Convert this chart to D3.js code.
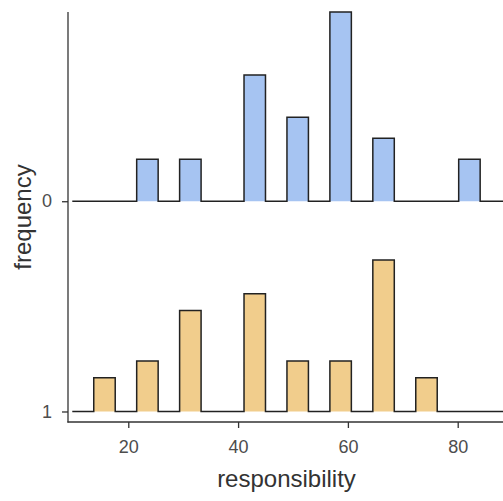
<!DOCTYPE html>
<html>
<head>
<meta charset="utf-8">
<script src="https://cdn.jsdelivr.net/npm/d3@7"></script>
<style>
  html, body { margin: 0; padding: 0; background: #fff; }
  svg { display: block; }
</style>
</head>
<body>
<svg id="chart" width="503" height="501"></svg>
<script>
// Binned counts of "responsibility" for each group; bins share one grid.
const binStart = 9.8;
const binWidth = 3.91;
const groups = ["0", "1"];
const groupPositions = [2, 1];
const groupColors = ["#A6C4F2", "#F1CD8C"];
const counts0 = [0, 0, 0, 2, 0, 2, 0, 0, 6, 0, 4, 0, 9, 0, 3, 0, 0, 0, 2, 0, 0, 0];
const counts1 = [0, 2, 0, 3, 0, 6, 0, 0, 7, 0, 3, 0, 3, 0, 9, 0, 2, 0, 0, 0, 0, 0];
const xTicks = [20, 40, 60, 80];
const ridgeScale = 0.9;

(function draw() {
  const svg = d3.select("#chart");
  const mLeft = 68, mRight = 503, mTop = 12, mBottom = 422;

  const x = d3.scaleLinear().domain([9.02, 88.25]).range([mLeft, mRight]);
  const y = d3.scaleLinear().domain([0.95, 2.9]).range([mBottom, mTop]);

  // densities per group, scaled so the tallest bin spans ridgeScale of a row
  const allCounts = [counts0, counts1];
  const densities = allCounts.map(c => {
    const total = d3.sum(c);
    return c.map(v => v / (total * binWidth));
  });
  const maxDensity = d3.max(densities.flat());

  svg.append("defs").append("clipPath").attr("id", "panel")
    .append("rect").attr("x", mLeft).attr("y", 0)
    .attr("width", mRight - mLeft).attr("height", mBottom);

  const panel = svg.append("g").attr("clip-path", "url(#panel)");

  densities.forEach((dens, gi) => {
    const base = groupPositions[gi];
    // step outline: each bin contributes its left and right edge at its height
    const pts = [];
    dens.forEach((d, i) => {
      const x0 = binStart + i * binWidth;
      const x1 = x0 + binWidth;
      const h = base + d / maxDensity * ridgeScale;
      pts.push([x0, h], [x1, h]);
    });
    const area = d3.area()
      .x(p => x(p[0]))
      .y0(y(base))
      .y1(p => y(p[1]));
    const line = d3.line()
      .x(p => x(p[0]))
      .y(p => y(p[1]));
    panel.append("path")
      .attr("d", area(pts))
      .attr("fill", groupColors[gi])
      .attr("stroke", "none");
    panel.append("path")
      .attr("d", line(pts))
      .attr("fill", "none")
      .attr("stroke", "#222")
      .attr("stroke-width", 1.5)
      .attr("stroke-linejoin", "miter");
  });

  // axes
  const xAxis = svg.append("g")
    .attr("transform", `translate(0,${mBottom})`)
    .call(d3.axisBottom(x).tickValues(xTicks).tickSize(6).tickSizeOuter(0).tickPadding(12));
  const yAxis = svg.append("g")
    .attr("transform", `translate(${mLeft},0)`)
    .call(d3.axisLeft(y).tickValues(groupPositions)
      .tickFormat(v => groups[groupPositions.indexOf(v)])
      .tickSize(6).tickSizeOuter(0).tickPadding(10));

  [xAxis, yAxis].forEach(a => {
    a.select(".domain").attr("stroke", "#333").attr("stroke-width", 1.3);
    a.selectAll(".tick line").attr("stroke", "#333").attr("stroke-width", 1.3);
    a.selectAll(".tick text")
      .attr("fill", "#4D4D4D")
      .style("font-family", "'Liberation Sans', Arial, sans-serif")
      .style("font-size", "18px");
  });
  xAxis.select(".domain").attr("d", `M${-0.6 + mLeft},0H${mRight}`);
  yAxis.select(".domain").attr("d", `M0,${mTop}V${mBottom + 0.6}`);

  svg.append("text")
    .attr("x", (mLeft + mRight) / 2 + 1)
    .attr("y", 487)
    .attr("text-anchor", "middle")
    .attr("fill", "#333")
    .style("font-family", "'Liberation Sans', Arial, sans-serif")
    .style("font-size", "24px")
    .text("responsibility");

  svg.append("text")
    .attr("transform", `translate(31,${(mTop + mBottom) / 2}) rotate(-90)`)
    .attr("text-anchor", "middle")
    .attr("fill", "#333")
    .style("font-family", "'Liberation Sans', Arial, sans-serif")
    .style("font-size", "24px")
    .text("frequency");
})();
</script>
</body>
</html>
